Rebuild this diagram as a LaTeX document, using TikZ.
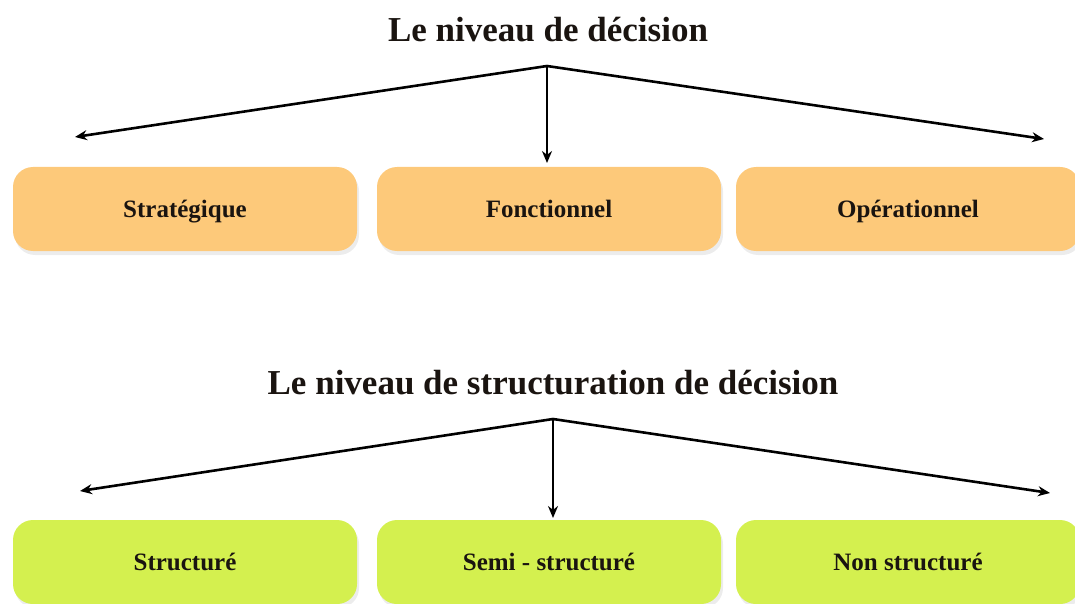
\documentclass[tikz,border=0pt]{standalone}
\usepackage{fontspec}
\setmainfont{Liberation Serif}
\usetikzlibrary{shadows,arrows.meta}
\definecolor{orangebox}{HTML}{FDC97A}
\definecolor{greenbox}{HTML}{D4F04F}
\definecolor{txt}{HTML}{1A1410}
\tikzset{
  box/.style={rounded corners=20pt, minimum width=344pt, minimum height=84pt, inner sep=0pt,
    font=\bfseries\fontsize{25}{28}\selectfont, text=txt, text height=22pt, text depth=6pt,
    drop shadow={shadow xshift=2pt, shadow yshift=-4pt, opacity=0.12, fill=black!60}},
  obox/.style={box, fill=orangebox},
  gbox/.style={box, fill=greenbox},
  title/.style={font=\bfseries\fontsize{35}{40}\selectfont, text=txt},
  arr/.style={-{Stealth[length=12pt,width=10pt]}, line width=2.6pt, black}
}
\begin{document}
\begin{tikzpicture}[x=1pt,y=-1pt]
\useasboundingbox (0,0) rectangle (1075,604);
% top section
\node[title] (t1) at (548,30) {Le niveau de décision};
\coordinate (a1) at (547,66);
\coordinate (l1) at (75,137);
\coordinate (r1) at (1044,139);
\coordinate (d1) at (547,163);
\node[obox] (b11) at (185,209) {Stratégique};
\node[obox] (b12) at (549,209) {Fonctionnel};
\node[obox] (b13) at (908,209) {Opérationnel};
\draw[arr] (a1) -- (l1);
\draw[arr] (a1) -- (r1);
\draw[arr] (a1) -- (d1);
% bottom section
\node[title] (t2) at (553,383) {Le niveau de structuration de décision};
\coordinate (a2) at (553,419);
\coordinate (l2) at (80,491);
\coordinate (r2) at (1050,493);
\coordinate (d2) at (553,518);
\node[gbox] (b21) at (185,562) {Structuré};
\node[gbox] (b22) at (549,562) {Semi - structuré};
\node[gbox] (b23) at (908,562) {Non structuré};
\draw[arr] (a2) -- (l2);
\draw[arr] (a2) -- (r2);
\draw[arr] (a2) -- (d2);
\end{tikzpicture}
\end{document}
